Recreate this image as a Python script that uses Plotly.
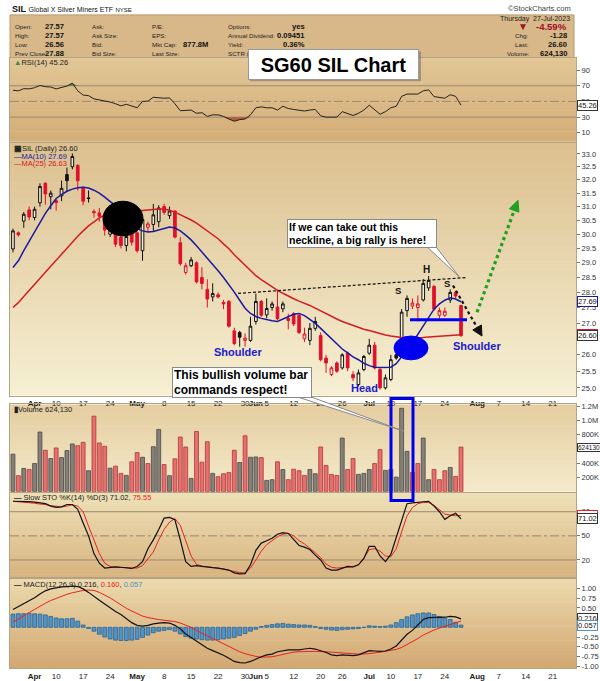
import plotly.graph_objects as go
import pandas as pd
import math

W, H = 600, 681

# ---------------- data ----------------
holidays = ["2023-04-07", "2023-05-29", "2023-06-19", "2023-07-04"]
all_days = pd.bdate_range("2023-03-28", "2023-08-31")
all_days = all_days[~all_days.isin(pd.to_datetime(holidays))]

opens = [29.48, 30.05, 30.47, 30.88, 30.60, 31.14, 31.87, 31.37, 31.22, 31.40,
         32.20, 32.50, 32.55, 31.68, 31.32, 30.82, 30.77, 30.50, 30.00, 30.10,
         29.90, 29.60, 30.07, 30.05, 29.42, 30.25, 30.35, 30.45, 31.00, 30.67,
         30.84, 29.70, 28.67, 28.90, 29.00, 28.50, 28.10, 27.85, 27.92, 27.67,
         27.70, 26.75, 26.70, 26.45, 26.45, 27.05, 27.70, 27.26, 27.50, 27.52,
         27.46, 27.15, 27.30, 27.25, 26.50, 26.45, 26.83, 26.60, 25.90, 25.40,
         25.75, 25.60, 26.05, 25.40, 25.10, 25.55, 26.05, 26.30, 25.55, 25.00,
         25.25, 26.00, 26.00, 27.40, 27.55, 27.50, 27.75, 28.15, 28.20, 27.25,
         27.25, 27.75, 28.00, 27.57]
highs = [30.20, 30.10, 30.80, 31.00, 31.00, 31.87, 31.92, 31.60, 31.28, 31.97,
         32.47, 33.02, 32.60, 31.75, 31.60, 30.90, 30.95, 30.60, 30.40, 30.20,
         30.00, 30.10, 30.15, 30.10, 30.62, 30.45, 31.10, 31.05, 31.10, 31.00,
         30.85, 29.90, 29.00, 29.20, 29.05, 28.85, 28.44, 28.30, 28.00, 27.75,
         27.75, 26.85, 26.75, 26.67, 27.20, 27.96, 27.75, 27.80, 27.70, 28.05,
         27.70, 27.30, 27.35, 27.30, 26.85, 27.00, 27.20, 26.70, 26.00, 25.65,
         25.80, 26.05, 26.10, 25.50, 25.55, 26.00, 26.50, 26.40, 25.60, 25.40,
         26.00, 26.05, 27.45, 27.90, 27.80, 27.90, 28.45, 28.55, 28.25, 27.50,
         27.50, 28.10, 28.05, 27.57]
lows = [29.36, 29.92, 30.23, 30.50, 30.50, 31.00, 31.07, 30.90, 30.85, 31.20,
        31.57, 32.40, 31.60, 31.05, 31.15, 30.60, 30.45, 29.95, 29.90, 29.55,
        29.50, 29.40, 29.60, 29.35, 29.07, 30.10, 30.10, 30.25, 30.70, 30.55,
        29.85, 28.90, 28.60, 28.85, 28.30, 28.10, 27.50, 27.70, 27.80, 27.45,
        26.85, 26.30, 26.25, 26.25, 26.40, 26.95, 27.20, 27.15, 27.40, 27.10,
        27.35, 26.80, 26.90, 26.65, 26.40, 26.30, 26.75, 25.80, 25.45, 25.35,
        25.45, 25.55, 25.50, 25.20, 25.05, 25.50, 26.00, 25.55, 24.95, 24.95,
        25.20, 25.85, 25.95, 27.20, 27.45, 27.05, 27.70, 28.05, 27.40, 27.15,
        27.20, 27.65, 27.80, 26.56]
closes = [30.12, 29.98, 30.72, 30.62, 30.90, 31.75, 31.47, 31.50, 31.15, 31.68,
          31.97, 32.90, 31.97, 31.20, 31.30, 30.78, 30.65, 30.15, 30.25, 29.65,
          29.60, 29.92, 29.72, 29.42, 30.53, 30.37, 30.70, 30.95, 30.79, 30.84,
          29.90, 28.97, 28.90, 29.10, 28.35, 28.30, 27.78, 27.96, 27.85, 27.62,
          26.90, 26.35, 26.55, 26.52, 26.90, 27.70, 27.25, 27.47, 27.62, 27.14,
          27.62, 27.08, 26.97, 26.70, 26.65, 26.83, 27.05, 25.85, 25.75, 25.60,
          25.50, 26.00, 25.60, 25.30, 25.45, 25.95, 26.30, 25.60, 25.00, 25.30,
          25.85, 25.90, 27.35, 27.80, 27.65, 27.62, 28.30, 28.40, 27.45, 27.40,
          27.38, 28.00, 27.88, 26.60]
volume_k = [525, 224, 325, 311, 394, 835, 580, 464, 612, 478,
            575, 668, 644, 690, 293, 1057, 682, 635, 329, 357,
            256, 228, 418, 547, 482, 394, 630, 871, 380, 224,
            460, 765, 626, 186, 843, 413, 700, 256, 210, 251,
            269, 580, 408, 783, 482, 487, 478, 158, 168, 418,
            311, 168, 315, 293, 228, 311, 251, 626, 367, 242,
            228, 751, 311, 464, 242, 256, 311, 394, 589, 297,
            311, 204, 1168, 565, 269, 394, 751, 168, 311, 168,
            293, 339, 214, 624.13]
ma10 = [28.84, 29.07, 29.42, 29.74, 30.05, 30.40, 30.75, 31.03, 31.30, 31.44,
        31.57, 31.65, 31.70, 31.72, 31.69, 31.61, 31.50, 31.35, 31.20, 31.03,
        30.80, 30.59, 30.37, 30.20, 30.12, 30.08, 30.10, 30.15, 30.20, 30.26,
        30.22, 30.12, 29.97, 29.80, 29.59, 29.38, 29.14, 28.93, 28.73, 28.50,
        28.27, 28.01, 27.74, 27.48, 27.31, 27.21, 27.15, 27.10, 27.07, 27.05,
        27.12, 27.21, 27.28, 27.31, 27.24, 27.12, 26.99, 26.83, 26.67, 26.52,
        26.33, 26.18, 26.06, 25.94, 25.85, 25.74, 25.67, 25.62, 25.61, 25.61,
        25.62, 25.73, 25.94, 26.15, 26.37, 26.64, 26.92, 27.20, 27.45, 27.62,
        27.74, 27.82, 27.78, 27.69]
ma25 = [27.50, 27.66, 27.86, 28.07, 28.27, 28.47, 28.68, 28.88, 29.09, 29.30,
        29.52, 29.72, 29.93, 30.12, 30.30, 30.44, 30.59, 30.69, 30.76, 30.80,
        30.82, 30.84, 30.84, 30.84, 30.86, 30.87, 30.89, 30.91, 30.91, 30.87,
        30.80, 30.71, 30.62, 30.51, 30.40, 30.26, 30.12, 29.98, 29.84, 29.66,
        29.49, 29.28, 29.09, 28.90, 28.73, 28.56, 28.43, 28.30, 28.17, 28.07,
        27.97, 27.87, 27.79, 27.71, 27.65, 27.57, 27.48, 27.39, 27.30, 27.20,
        27.13, 27.05, 26.99, 26.91, 26.85, 26.80, 26.76, 26.71, 26.66, 26.62,
        26.59, 26.56, 26.54, 26.53, 26.53, 26.53, 26.54, 26.56, 26.57, 26.59,
        26.60, 26.62, 26.62, 26.63]
rsi = [64.3, 63.5, 66.3, 66.0, 67.5, 70.4, 68.8, 68.4, 66.0, 67.5,
       69.6, 73.3, 63.5, 58.1, 57.4, 53.3, 52.0, 50.0, 49.2, 47.1,
       44.3, 46.4, 43.9, 41.9, 50.0, 50.4, 55.3, 54.5, 54.1, 54.5,
       47.1, 38.2, 39.0, 39.0, 34.9, 35.7, 30.9, 32.9, 32.9, 30.9,
       27.6, 24.7, 26.8, 27.6, 32.9, 41.9, 43.1, 41.9, 41.9, 39.0,
       43.9, 41.0, 39.8, 39.0, 37.8, 39.0, 39.8, 31.7, 30.0, 30.0,
       30.0, 37.0, 34.9, 32.1, 34.9, 39.0, 45.2, 39.8, 33.7, 37.0,
       41.9, 43.9, 56.5, 59.4, 59.4, 59.4, 63.5, 64.7, 56.2, 55.3,
       54.1, 58.6, 56.5, 45.26]
sto_k = [93, 93, 93, 92.5, 92, 91.4, 90, 87, 85.5, 86,
         89, 89, 83, 66, 50, 28, 16, 10, 11, 11.5,
         11, 10.5, 9.5, 12, 18, 34, 45, 58, 72, 73,
         70, 45, 18, 12, 13, 12, 11, 10.5, 10, 9,
         7.5, 4, 2.7, 3, 14, 32, 41, 44, 47, 52,
         54, 53, 46, 38, 36, 33, 26, 20, 10, 7.5,
         7.5, 10, 12, 11.5, 14, 22, 37, 37, 25, 18,
         27, 48, 70, 90, 91, 91.5, 92.5, 93, 87, 80,
         70.5, 75, 78, 71.02]
sto_d = [93, 92.5, 92, 91.5, 90.5, 89.5, 89, 87.5, 86.5, 86,
         87, 88.5, 87, 80, 62, 45, 28, 16, 12, 11,
         11, 10.5, 10, 10, 13, 21, 30, 45, 58, 67,
         71.5, 63, 44, 25, 14.5, 12.5, 11.5, 10.5, 10, 9,
         7, 5.5, 4.5, 4, 10, 20, 31, 39, 44, 49,
         52, 53, 50, 44, 40, 35, 29, 23, 15, 11,
         10, 10.5, 11, 11.5, 14, 22, 33, 34, 31, 25,
         24, 34, 55, 75, 85, 90, 91.5, 91.5, 88, 83,
         77, 76, 75, 75.55]
macd = [0.46, 0.53, 0.61, 0.69, 0.76, 0.86, 0.94, 0.99, 1.02, 1.04,
        1.05, 1.06, 1.05, 0.99, 0.90, 0.81, 0.70, 0.60, 0.50, 0.41,
        0.33, 0.22, 0.12, 0.05, 0.03, 0.05, 0.09, 0.11, 0.12, 0.11,
        0.05, -0.04, -0.17, -0.26, -0.35, -0.44, -0.54, -0.60, -0.65, -0.72,
        -0.80, -0.88, -0.91, -0.92, -0.88, -0.81, -0.76, -0.71, -0.69, -0.63,
        -0.60, -0.58, -0.58, -0.58, -0.56, -0.54, -0.56, -0.60, -0.65, -0.71,
        -0.73, -0.71, -0.72, -0.73, -0.71, -0.66, -0.60, -0.61, -0.62, -0.61,
        -0.56, -0.48, -0.33, -0.18, -0.08, 0.06, 0.20, 0.25, 0.25, 0.25,
        0.26, 0.28, 0.27, 0.216]
macd_signal = [0.13, 0.22, 0.30, 0.38, 0.46, 0.55, 0.62, 0.69, 0.75, 0.80,
               0.85, 0.89, 0.93, 0.95, 0.96, 0.95, 0.90, 0.84, 0.76, 0.67,
               0.57, 0.49, 0.42, 0.35, 0.29, 0.25, 0.22, 0.20, 0.18, 0.16,
               0.15, 0.11, 0.06, 0.00, -0.08, -0.15, -0.23, -0.30, -0.37, -0.44,
               -0.51, -0.57, -0.63, -0.68, -0.72, -0.75, -0.77, -0.77, -0.76, -0.73,
               -0.70, -0.67, -0.64, -0.63, -0.62, -0.62, -0.62, -0.62, -0.63, -0.64,
               -0.65, -0.66, -0.67, -0.69, -0.69, -0.69, -0.68, -0.66, -0.64, -0.62,
               -0.60, -0.57, -0.52, -0.45, -0.38, -0.29, -0.20, -0.13, -0.07, -0.02,
               0.03, 0.08, 0.12, 0.160]
macd_hist = [0.34, 0.35, 0.35, 0.36, 0.35, 0.34, 0.32, 0.28, 0.24, 0.22,
             0.22, 0.23, 0.16, 0.06, -0.03, -0.10, -0.18, -0.25, -0.30, -0.33,
             -0.34, -0.34, -0.33, -0.31, -0.26, -0.20, -0.14, -0.10, -0.08, -0.06,
             -0.10, -0.17, -0.24, -0.28, -0.30, -0.32, -0.33, -0.33, -0.32, -0.30,
             -0.28, -0.26, -0.21, -0.16, -0.10, -0.05, 0.02, 0.05, 0.07, 0.09,
             0.10, 0.08, 0.07, 0.06, 0.06, 0.05, 0.02, -0.03, -0.05, -0.07,
             -0.08, -0.06, -0.05, -0.04, -0.03, 0.00, 0.04, 0.03, 0.02, 0.03,
             0.06, 0.12, 0.20, 0.27, 0.32, 0.35, 0.37, 0.37, 0.33, 0.28,
             0.24, 0.20, 0.13, 0.057]

tick_dates = ["2023-04-03", "2023-04-10", "2023-04-17", "2023-04-24", "2023-05-01",
              "2023-05-08", "2023-05-15", "2023-05-22", "2023-05-30", "2023-06-01",
              "2023-06-05", "2023-06-12", "2023-06-20", "2023-06-26", "2023-07-03",
              "2023-07-10", "2023-07-17", "2023-07-24", "2023-08-01", "2023-08-07",
              "2023-08-14", "2023-08-21"]
tick_labels = ["<b>Apr</b>", "10", "17", "24", "<b>May</b>", "8", "15", "22", "30", "<b>Jun</b>",
               "5", "12", "20", "26", "<b>Jul</b>", "10", "17", "24", "<b>Aug</b>", "7", "14", "21"]

price_ticks = [25.0, 25.5, 26.0, 26.5, 27.0, 27.5, 28.0, 28.5, 29.0, 29.5,
               30.0, 30.5, 31.0, 31.5, 32.0, 32.5, 33.0]
price_tick_labels = ["25.0", "25.5", "26.0", "", "27.0", "27.5", "28.0", "28.5", "29.0", "29.5",
                     "30.0", "30.5", "31.0", "31.5", "32.0", "32.5", "33.0"]
vol_ticks = [200e3, 400e3, 600e3, 800e3, 1.0e6, 1.2e6]
vol_tick_labels = ["200K", "400K", "", "800K", "1.0M", "1.2M"]
macd_ticks = [-1.0, -0.75, -0.5, -0.25, 0.0, 0.25, 0.5, 0.75, 1.0]
macd_tick_labels = ["-1.00", "-0.75", "-0.50", "-0.25", "", "", "0.50", "0.75", "1.00"]

n = len(closes)
for arr in (opens, highs, lows, volume_k, ma10, ma25, rsi, sto_k, sto_d, macd, macd_signal, macd_hist):
    assert len(arr) == n
idx = list(range(n))
tick_pos = [int(all_days.get_loc(pd.Timestamp(d))) for d in tick_dates]
volume = [v * 1000 for v in volume_k]

# ---------------- helpers ----------------
FONT = "Liberation Sans, Arial, sans-serif"


def px(x):
    return x / W


def py(y):
    return 1 - y / H


XL, XR = 10, 576
panels = {  # pixel top, bottom
    "rsi": (55, 140),
    "price": (141, 396),
    "vol": (405, 493),
    "sto": (494, 579),
    "macd": (581, 671),
}

shapes = []
annos = []


def hex2rgb(h):
    h = h.lstrip('#')
    return [int(h[i:i + 2], 16) for i in (0, 2, 4)]


def grad(top, bot, c0, c1, nb=32):
    a, b = hex2rgb(c0), hex2rgb(c1)
    for k in range(nb):
        t = k / (nb - 1)
        col = "rgb(%d,%d,%d)" % tuple(round(a[j] + (b[j] - a[j]) * t) for j in range(3))
        ya = top + (bot - top) * k / nb
        yb = top + (bot - top) * (k + 1) / nb + 0.6
        shapes.append(dict(type="rect", xref="paper", yref="paper", x0=px(XL), x1=px(XR),
                           y0=py(min(yb, bot)), y1=py(ya), fillcolor=col, line_width=0, layer="below"))


grad(*panels["rsi"], "#e2c696", "#d4ad77")
grad(*panels["price"], "#dcc090", "#f6efd2")
grad(*panels["vol"], "#e4cda0", "#f4eacb")
grad(*panels["sto"], "#eee0b6", "#d8b480")
grad(*panels["macd"], "#ebd9ad", "#d3a872")


def hline(yref, val, dash="solid", color="#9a8a70"):
    shapes.append(dict(type="line", xref="paper", yref=yref, x0=px(XL), x1=px(XR), y0=val, y1=val,
                       line=dict(color=color, width=1, dash=dash), layer="below"))


for v in (30, 70):
    hline("y", v)
hline("y", 50, "dashdot")
for v in (20, 80):
    hline("y4", v)
hline("y4", 50, "dashdot")

fig = go.Figure()

# ---------------- RSI ----------------
fig.add_trace(go.Scatter(x=idx, y=[70] * n, mode="lines", line=dict(width=0), xaxis="x", yaxis="y",
                         hoverinfo="skip", showlegend=False))
fig.add_trace(go.Scatter(x=idx, y=[max(v, 70) for v in rsi], mode="lines", line=dict(width=0),
                         fill="tonexty", fillcolor="rgba(60,140,60,0.85)", xaxis="x", yaxis="y",
                         hoverinfo="skip", showlegend=False))
fig.add_trace(go.Scatter(x=idx, y=[30] * n, mode="lines", line=dict(width=0), xaxis="x", yaxis="y",
                         hoverinfo="skip", showlegend=False))
fig.add_trace(go.Scatter(x=idx, y=[min(v, 30) for v in rsi], mode="lines", line=dict(width=0),
                         fill="tonexty", fillcolor="rgba(170,80,50,0.85)", xaxis="x", yaxis="y",
                         hoverinfo="skip", showlegend=False))
fig.add_trace(go.Scatter(x=idx, y=rsi, mode="lines", line=dict(color="#222", width=1),
                         xaxis="x", yaxis="y", hoverinfo="skip", showlegend=False))

# ---------------- Price ----------------
fig.add_trace(go.Scatter(x=idx, y=ma25, mode="lines", line=dict(color="#d41c24", width=1.5),
                         xaxis="x2", yaxis="y2", hoverinfo="skip", showlegend=False))
fig.add_trace(go.Scatter(x=idx, y=ma10, mode="lines", line=dict(color="#1a1aa0", width=1.5),
                         xaxis="x2", yaxis="y2", hoverinfo="skip", showlegend=False))

prev_close = [opens[0]] + closes[:-1]
groups = {"hb": [], "fb": [], "hr": [], "fr": []}
for i in idx:
    up = closes[i] >= prev_close[i]
    hollow = closes[i] >= opens[i]
    groups[("h" if hollow else "f") + ("b" if up else "r")].append(i)
styles = {
    "hb": ("#111111", "rgba(255,255,255,0.55)"),
    "fb": ("#111111", "#111111"),
    "hr": ("#e0102a", "rgba(255,255,255,0.55)"),
    "fr": ("#e0102a", "#e0102a"),
}
for key, members in groups.items():
    if not members:
        continue
    lc, fc = styles[key]
    fig.add_trace(go.Candlestick(
        x=members, open=[opens[i] for i in members], high=[highs[i] for i in members],
        low=[lows[i] for i in members], close=[closes[i] for i in members],
        increasing=dict(line=dict(color=lc, width=1), fillcolor=fc),
        decreasing=dict(line=dict(color=lc, width=1), fillcolor=fc),
        whiskerwidth=0, xaxis="x2", yaxis="y2", hoverinfo="skip", showlegend=False))

# ---------------- Volume ----------------
vcol = ["#e27272" if closes[i] < prev_close[i] else "#85817a" for i in idx]
vline = ["#b83232" if closes[i] < prev_close[i] else "#4a4844" for i in idx]
fig.add_trace(go.Bar(x=idx, y=volume, width=0.72, marker=dict(color=vcol, line=dict(color=vline, width=0.8)),
                     xaxis="x3", yaxis="y3", hoverinfo="skip", showlegend=False))

# ---------------- Slow STO ----------------
fig.add_trace(go.Scatter(x=idx, y=sto_d, mode="lines", line=dict(color="#e8231e", width=1),
                         xaxis="x4", yaxis="y4", hoverinfo="skip", showlegend=False))
fig.add_trace(go.Scatter(x=idx, y=sto_k, mode="lines", line=dict(color="#111", width=1.2),
                         xaxis="x4", yaxis="y4", hoverinfo="skip", showlegend=False))

# ---------------- MACD ----------------
fig.add_trace(go.Bar(x=idx, y=macd_hist, width=0.72,
                     marker=dict(color="#4f93c8", line=dict(color="#2c6390", width=0.8)),
                     xaxis="x5", yaxis="y5", hoverinfo="skip", showlegend=False))
fig.add_trace(go.Scatter(x=idx, y=macd_signal, mode="lines", line=dict(color="#e8231e", width=1),
                         xaxis="x5", yaxis="y5", hoverinfo="skip", showlegend=False))
fig.add_trace(go.Scatter(x=idx, y=macd, mode="lines", line=dict(color="#111", width=1.2),
                         xaxis="x5", yaxis="y5", hoverinfo="skip", showlegend=False))

# ---------------- axes ----------------
xr = [-0.55, 104.3]
xdom = [px(XL), px(XR)]


def dom(name):
    t, b = panels[name]
    return [py(b), py(t)]


xcommon = dict(range=xr, domain=xdom, showgrid=False, zeroline=False, showline=True, mirror=True,
               linecolor="#b3a284", linewidth=1, fixedrange=True)
ycommon = dict(side="right", showgrid=False, zeroline=False, showline=True, mirror=True,
               linecolor="#b3a284", linewidth=1, ticks="outside", ticklen=3, tickcolor="#777",
               tickfont=dict(family=FONT, size=7.5, color="#333"), fixedrange=True)
xlab = dict(tickmode="array", tickvals=tick_pos, ticktext=tick_labels, ticks="", tickangle=0,
            tickfont=dict(family=FONT, size=8, color="#222"))
nolab = dict(showticklabels=False, ticks="")

fig.update_layout(
    xaxis=dict(**xcommon, **nolab, anchor="y"),
    xaxis2=dict(**xcommon, **xlab, anchor="y2", rangeslider=dict(visible=False)),
    xaxis3=dict(**xcommon, **nolab, anchor="y3"),
    xaxis4=dict(**xcommon, **nolab, anchor="y4"),
    xaxis5=dict(**xcommon, **xlab, anchor="y5"),
    yaxis=dict(**ycommon, domain=dom("rsi"), range=[-1.4, 106], tickvals=[10, 30, 50, 70, 90], anchor="x"),
    yaxis2=dict(**ycommon, domain=dom("price"), type="log",
                range=[math.log10(24.775), math.log10(33.44)],
                tickvals=price_ticks, ticktext=price_tick_labels, anchor="x2"),
    yaxis3=dict(**ycommon, domain=dom("vol"), range=[0, 1.222e6], tickvals=vol_ticks,
                ticktext=vol_tick_labels, anchor="x3"),
    yaxis4=dict(**ycommon, domain=dom("sto"), range=[-1.0, 103.7], tickvals=[20, 50, 80], anchor="x4"),
    yaxis5=dict(**ycommon, domain=dom("macd"), range=[-1.051, 1.248], tickvals=macd_ticks,
                ticktext=macd_tick_labels, anchor="x5"),
)


# ---------------- header ----------------
shapes.append(dict(type="rect", xref="paper", yref="paper", x0=px(10), x1=px(574), y0=py(55), y1=py(12),
                   fillcolor="#d8b888", line=dict(color="#b89a6a", width=1), layer="below"))


def txt(x, y, s, size=8, color="#222", anchor="left", bold=False, family=FONT):
    annos.append(dict(x=px(x), y=py(y), xref="paper", yref="paper", text=("<b>%s</b>" % s) if bold else s,
                      showarrow=False, xanchor=anchor, yanchor="middle",
                      font=dict(family=family, size=size, color=color)))


txt(10, 6, "<b>SIL</b> <span style='font-size:7px'>Global X Silver Miners ETF</span> "
           "<span style='font-size:6px'>NYSE</span>", size=9, color="#111")
txt(573, 6, "©StockCharts.com", size=7.5, color="#444", anchor="right")

LS, VS = 6.2, 7.6
r1, r2, r3, r4 = 24, 33, 42, 51
for (lab, val, y) in [("Open:", "27.57", r1), ("High:", "27.57", r2), ("Low:", "26.56", r3),
                      ("Prev Close:", "27.88", r4)]:
    txt(13, y, lab, size=LS)
    txt(66, y, val, size=VS, anchor="right", bold=True, color="#111")
for (lab, y) in [("Ask:", r1), ("Ask Size:", r2), ("Bid:", r3), ("Bid Size:", r4)]:
    txt(90, y, lab, size=LS)
for (lab, y) in [("P/E:", r1), ("EPS:", r2), ("Mkt Cap:", r3), ("Last Size:", r4)]:
    txt(150, y, lab, size=LS)
txt(181, r3, "877.8M", size=VS, bold=True, color="#111")
for (lab, val, y) in [("Options:", "yes", r1), ("Annual Dividend:", "0.09451", r2), ("Yield:", "0.36%", r3)]:
    txt(226, y, lab, size=LS)
    txt(307, y, val, size=VS, anchor="right", bold=True, color="#111")
txt(226, r4, "SCTR (", size=LS)
txt(572, 16, "Thursday  27-Jul-2023", size=7, anchor="right", color="#222")
txt(516, r1, "▼", size=10, color="#a00e28")
txt(569, r1, "-4.59%", size=9.5, anchor="right", bold=True, color="#a00e28")
for (lab, val, y) in [("Chg:", "-1.28", r2), ("Last:", "26.60", r3)]:
    txt(513, y, lab, size=LS)
    txt(569, y, val, size=VS, anchor="right", bold=True, color="#111")
txt(505, r4, "Volume:", size=LS)
txt(569, r4, "624,130", size=VS, anchor="right", bold=True, color="#111")

# panel legends
txt(12, 60, "<span style='color:#3a8a3a'>▲</span>RSI(14) 45.26", size=7.5, color="#222")
txt(12, 147, "<b>▦</b>SIL (Daily) 26.60", size=7.5, color="#222")
txt(12, 154.5, "—MA(10) 27.69", size=7.5, color="#1a1aa0")
txt(12, 162, "—MA(25) 26.63", size=7.5, color="#d41c24")
txt(12, 410, "<b>▮</b>Volume 624,130", size=7.5, color="#222")
txt(12, 498.5, "<b>—</b> Slow STO %K(14) %D(3) 71.02, <span style='color:#e8231e'>75.55</span>",
    size=7.5, color="#222")
txt(12, 586.5, "<b>—</b> MACD(12,26,9) 0.216, <span style='color:#e8231e'>0.160</span>, "
               "<span style='color:#4f93c8'>0.057</span>", size=7.5, color="#222")


def valbox(yref, y, s, border, color="#111", size=7.5):
    annos.append(dict(x=px(577), y=y, xref="paper", yref=yref, text=s, showarrow=False, xanchor="left",
                      yanchor="middle", bgcolor="white", bordercolor=border, borderwidth=1, borderpad=0,
                      font=dict(family=FONT, size=size, color=color)))


valbox("y", 45.26, "45.26", "#333")
valbox("y2", math.log10(26.63), "26.63", "#d41c24")
valbox("y2", math.log10(26.60), "26.60", "#333")
valbox("y2", math.log10(27.69), "27.69", "#1a1aa0")
valbox("y3", 624130, "624130", "#333", size=6.5)
valbox("y4", 75.55, "75.55", "#e8231e")
valbox("y4", 71.02, "71.02", "#333")
valbox("y5", 0.160, "0.160", "#e8231e")
valbox("y5", 0.216, "0.216", "#333")
valbox("y5", 0.057, "0.057", "#4f93c8")

# ---------------- drawn overlays ----------------
BLUE = "#0000f0"


def line(x0, y0, x1, y1, color, width, dash="solid"):
    shapes.append(dict(type="line", xref="paper", yref="paper", x0=px(x0), y0=py(y0), x1=px(x1), y1=py(y1),
                       line=dict(color=color, width=width, dash=dash), layer="above"))


def poly(pts, fill, lc="rgba(0,0,0,0)", lw=0):
    d = "M " + " L ".join("%f %f" % (px(a), py(b)) for a, b in pts) + " Z"
    shapes.append(dict(type="path", xref="paper", yref="paper", path=d, fillcolor=fill,
                       line=dict(color=lc, width=lw), layer="above"))


# neckline
line(238, 293, 466, 277, "#111", 1.2, "3px,2px")
# black circle
shapes.append(dict(type="circle", xref="paper", yref="paper", x0=px(103), x1=px(143), y0=py(235), y1=py(200),
                   fillcolor="#000", line=dict(color="#000", width=1), layer="above"))
# blue ellipse
shapes.append(dict(type="circle", xref="paper", yref="paper", x0=px(394), x1=px(428), y0=py(360), y1=py(336),
                   fillcolor=BLUE, line=dict(color=BLUE, width=1), layer="above"))
# blue horizontal bar
line(410, 319.5, 467, 319.5, BLUE, 3)
# blue rectangle around volume bar
shapes.append(dict(type="rect", xref="paper", yref="paper", x0=px(391), x1=px(413), y0=py(502), y1=py(399),
                   fillcolor="rgba(0,0,0,0)", line=dict(color=BLUE, width=3), layer="above"))
# green dotted arrow
line(477, 312, 514.2, 209.3, "#1fa01f", 3.2, "dot")
poly([(518, 199), (518.9, 211.0), (509.5, 207.6)], "#1fa01f", "#1fa01f", 1)
# black dotted arrow
line(453, 285, 477.1, 327.3, "#111", 2.2, "dot")
poly([(482, 336), (481.4, 324.8), (472.8, 329.8)], "#111", "#111", 1)
# callout tails
poly([(427, 246), (436, 246), (459, 276)], "white", "#888", 1)
poly([(296, 397), (310, 397), (404, 432)], "white", "#888", 1)
# SG60 box shadow
shapes.append(dict(type="rect", xref="paper", yref="paper", x0=px(250), x1=px(421), y0=py(79), y1=py(49),
                   fillcolor="rgba(90,90,90,0.45)", line_width=0, layer="above"))


def callout(cx, cy, w, h, s, size):
    annos.append(dict(x=px(cx), y=py(cy), xref="paper", yref="paper", text=s, showarrow=False,
                      xanchor="center", yanchor="middle", align="left", width=w, height=h,
                      bgcolor="white", bordercolor="#8a8a8a", borderwidth=1, borderpad=1,
                      font=dict(family=FONT, size=size, color="#000")))


callout(362, 233, 146, 25, "<b>If we can take out this<br>neckline, a big rally is here!</b>", 10.5)
callout(242, 383, 136, 27, "<b>This bullish volume bar<br>commands respect!</b>", 12)
annos.append(dict(x=px(333.5), y=py(62), xref="paper", yref="paper", text="<b>SG60 SIL Chart</b>",
                  showarrow=False, xanchor="center", yanchor="middle", width=167, height=27,
                  bgcolor="white", bordercolor="#999", borderwidth=1, borderpad=1,
                  font=dict(family=FONT, size=20, color="#000")))

# pattern labels
txt(238, 352, "<b>Shoulder</b>", size=11, color="#1a1ad0", anchor="center")
txt(364, 388, "<b>Head</b>", size=11, color="#1a1ad0", anchor="center")
txt(477, 346, "<b>Shoulder</b>", size=11, color="#1a1ad0", anchor="center")
txt(398, 290, "<b>S</b>", size=9.5, color="#111", anchor="center")
txt(426, 269, "<b>H</b>", size=10, color="#111", anchor="center")
txt(447, 283, "<b>S</b>", size=9.5, color="#111", anchor="center")

fig.update_layout(
    width=W, height=H, margin=dict(l=0, r=0, t=0, b=0),
    paper_bgcolor="white", plot_bgcolor="rgba(0,0,0,0)",
    shapes=shapes, annotations=annos, showlegend=False, bargap=0,
    font=dict(family=FONT),
)

fig.write_html("out.html", config={"displayModeBar": False, "staticPlot": True},
               post_script="document.body.style.margin='0px';")
